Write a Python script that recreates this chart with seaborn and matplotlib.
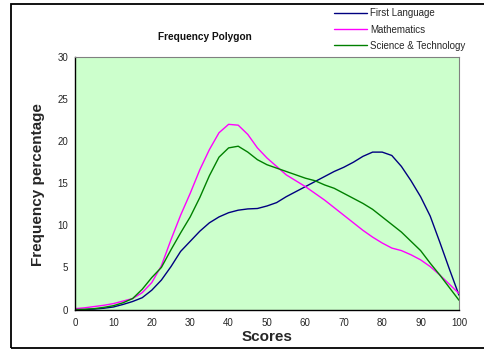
import numpy as np
import pandas as pd
import matplotlib
matplotlib.use("Agg")
import matplotlib.pyplot as plt
from matplotlib.patches import Rectangle
from matplotlib.lines import Line2D
import seaborn as sns

scores = [0, 2.5, 5, 7.5, 10, 12.5, 15, 17.5, 20, 22.5, 25, 27.5, 30, 32.5, 35, 37.5,
          40, 42.5, 45, 47.5, 50, 52.5, 55, 57.5, 60, 62.5, 65, 67.5, 70, 72.5, 75,
          77.5, 80, 82.5, 85, 87.5, 90, 92.5, 95, 97.5, 100]

first_language = [0, 0.0, 0.05, 0.15, 0.3, 0.6, 0.95, 1.4, 2.3, 3.5, 5.1, 6.9, 8.1, 9.3,
                  10.3, 11.0, 11.5, 11.8, 11.95, 12.0, 12.3, 12.7, 13.4, 14.0, 14.6, 15.2,
                  15.8, 16.4, 16.9, 17.5, 18.2, 18.7, 18.7, 18.3, 17.0, 15.3, 13.4, 11.1,
                  8.0, 4.8, 1.7]

mathematics = [0.1, 0.2, 0.35, 0.5, 0.7, 1.0, 1.3, 2.0, 3.2, 5.2, 8.3, 11.2, 13.8, 16.6,
               19.0, 21.0, 22.0, 21.9, 20.8, 19.2, 18.0, 17.0, 16.0, 15.3, 14.6, 13.8,
               13.0, 12.1, 11.2, 10.3, 9.4, 8.6, 7.9, 7.3, 7.0, 6.5, 5.9, 5.1, 4.1, 3.0,
               1.9]

science_tech = [0, 0.02, 0.1, 0.25, 0.45, 0.8, 1.3, 2.4, 3.8, 5.0, 7.1, 9.1, 11.0, 13.3,
                15.9, 18.1, 19.2, 19.4, 18.7, 17.8, 17.2, 16.8, 16.4, 16.0, 15.6, 15.3,
                14.8, 14.4, 13.8, 13.2, 12.6, 11.9, 11.0, 10.1, 9.2, 8.1, 7.0, 5.5, 4.1,
                2.6, 1.1]

series_names = ["First Language", "Mathematics", "Science & Technology"]
series_colors = ["#000080", "#FF00FF", "#008000"]
x_ticks = list(range(0, 101, 10))
y_ticks = list(range(0, 31, 5))

df = pd.concat([
    pd.DataFrame({"Scores": scores, "value": first_language, "subject": series_names[0]}),
    pd.DataFrame({"Scores": scores, "value": mathematics, "subject": series_names[1]}),
    pd.DataFrame({"Scores": scores, "value": science_tech, "subject": series_names[2]}),
])

sns.set_style("white")
plt.rcParams["font.family"] = ["Liberation Sans", "DejaVu Sans"]

W, H = 484, 351
fig = plt.figure(figsize=(W / 100, H / 100), dpi=100)
fig.patch.set_facecolor("white")
ax = fig.add_axes([75 / W, 1 - 309.5 / H, (459 - 75) / W, (309.5 - 57) / H])

sns.lineplot(data=df, x="Scores", y="value", hue="subject",
             palette=dict(zip(series_names, series_colors)),
             linewidth=1.0, ax=ax, legend=False, sort=False)

ax.set_facecolor("#CCFFCC")
ax.set_xlim(0, 100)
ax.set_ylim(0, 30)
ax.set_xticks(x_ticks)
ax.set_yticks(y_ticks)
ax.tick_params(axis="both", labelsize=7, length=3, width=0.8, direction="out",
               color="black", pad=2)
ax.tick_params(axis="x", pad=3)
for s in ["left", "bottom"]:
    ax.spines[s].set_color("black")
    ax.spines[s].set_linewidth(1.0)
for s in ["top", "right"]:
    ax.spines[s].set_color("#808080")
    ax.spines[s].set_linewidth(0.8)
ax.set_xlabel("")
ax.set_ylabel("")

fig.text(38 / W, 1 - 185 / H, "Frequency percentage", rotation=90, fontsize=11,
         fontweight="bold", ha="center", va="center")
fig.text(267 / W, 1 - 337 / H, "Scores", fontsize=11, fontweight="bold",
         ha="center", va="center")
fig.text(205 / W, 1 - 37.5 / H, "Frequency Polygon",
         fontsize=7.3, fontweight="bold", ha="center", va="center", color="#111111")

# outer frame
fig.patches.append(Rectangle((11 / W, 3 / H), 1.0, 1 - 7 / H, transform=fig.transFigure,
                             fill=False, edgecolor="black", linewidth=1.3))

handles = [Line2D([0], [0], color=c, linewidth=1.0) for c in series_colors]
fig.legend(handles, series_names, loc="upper left",
           bbox_to_anchor=(334 / W, 1 - 8.5 / H), frameon=False, fontsize=7,
           handlelength=3.4, handletextpad=0.3, labelspacing=0.62, borderpad=0,
           borderaxespad=0)

fig.savefig("out.png", dpi=100)
